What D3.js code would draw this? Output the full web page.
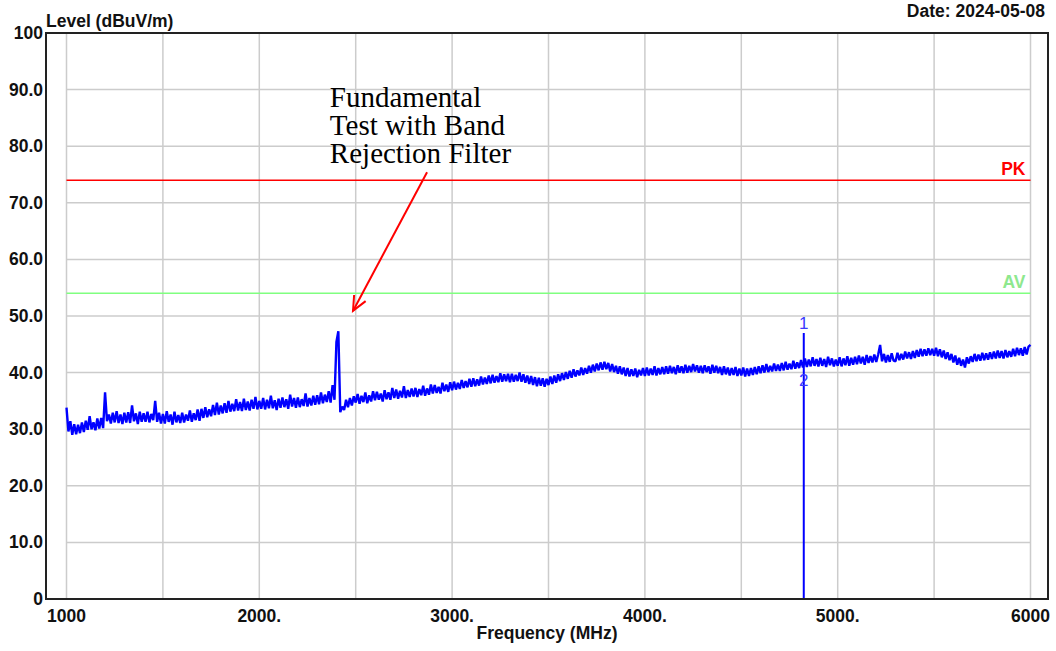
<!doctype html>
<meta charset='utf-8'>
<style>
  body { margin: 0; background: #fff; }
  svg text { font-family: 'Liberation Sans', Arial, sans-serif; }
</style>
<body>
<script src='https://cdn.jsdelivr.net/npm/d3@7/dist/d3.min.js'></script>
<script>

// ---- data ----
var freqStart = 1000, freqStep = 10;   // MHz, one level every 10 MHz
var levels = [
  33.8, 29.6, 31.4, 29.0, 30.9, 29.1, 30.8, 29.3, 31.2, 29.5,
  31.5, 29.9, 32.3, 30.0, 31.2, 29.8, 31.9, 30.1, 32.0, 30.2,
  36.5, 31.4, 32.6, 31.0, 32.9, 31.2, 33.2, 31.1, 32.6, 30.9,
  32.9, 31.2, 33.0, 31.1, 34.2, 31.4, 32.8, 30.9, 33.1, 31.3,
  32.8, 31.3, 33.1, 31.2, 32.7, 31.6, 35.0, 31.3, 32.9, 31.0,
  32.7, 31.0, 33.2, 31.3, 32.6, 30.8, 33.1, 31.2, 32.5, 31.1,
  32.9, 31.2, 32.6, 31.5, 33.3, 31.3, 32.8, 31.6, 33.5, 31.5,
  33.6, 32.0, 33.9, 32.1, 33.5, 32.3, 34.3, 32.5, 34.7, 32.6,
  34.2, 32.8, 34.6, 32.9, 35.0, 33.1, 34.5, 33.2, 35.3, 33.3,
  34.8, 33.2, 35.4, 33.4, 34.9, 33.3, 35.2, 33.6, 35.7, 33.5,
  35.0, 33.6, 35.5, 33.5, 35.2, 33.7, 35.9, 33.7, 35.1, 33.4,
  35.4, 33.8, 35.6, 33.9, 35.3, 33.6, 36.1, 34.0, 35.5, 33.8,
  35.6, 33.9, 35.3, 34.1, 36.3, 34.0, 35.5, 34.2, 35.9, 34.3,
  36.0, 34.4, 36.5, 34.6, 36.1, 34.8, 36.7, 34.7, 37.8, 35.2,
  45.4, 47.3, 33.0, 34.0, 33.4, 35.2, 33.9, 35.5, 34.2, 35.8,
  34.7, 36.2, 34.5, 35.9, 34.8, 36.5, 34.6, 36.0, 34.9, 36.7,
  35.1, 36.6, 35.2, 36.3, 34.9, 36.9, 35.3, 36.5, 35.2, 37.3,
  35.5, 37.0, 35.4, 36.8, 35.6, 37.6, 35.5, 36.9, 35.7, 37.2,
  35.8, 37.3, 35.7, 37.1, 36.0, 37.7, 35.9, 37.2, 36.1, 37.9,
  36.3, 37.8, 36.4, 37.5, 36.3, 38.2, 36.7, 37.9, 36.6, 38.3,
  36.9, 38.4, 37.0, 38.2, 37.1, 38.7, 37.3, 38.5, 37.4, 38.9,
  37.5, 39.0, 37.6, 38.8, 37.7, 39.3, 37.9, 39.1, 38.0, 39.5,
  38.1, 39.6, 38.2, 39.4, 38.3, 39.9, 38.4, 39.7, 38.5, 39.8,
  38.3, 39.8, 38.4, 39.6, 38.5, 40.0, 38.4, 39.7, 38.2, 39.5,
  38.0, 39.4, 37.8, 39.2, 37.6, 39.1, 37.7, 39.0, 37.5, 38.9,
  37.8, 39.3, 38.0, 39.5, 38.2, 39.7, 38.5, 39.9, 38.7, 40.1,
  38.9, 40.3, 39.1, 40.6, 39.3, 40.4, 39.5, 40.9, 39.6, 40.8,
  39.8, 41.2, 40.0, 41.4, 40.2, 41.6, 40.4, 41.8, 40.5, 41.9,
  40.6, 41.7, 40.2, 41.5, 40.1, 41.2, 39.8, 41.1, 39.7, 40.9,
  39.4, 40.8, 39.3, 40.6, 39.4, 40.7, 39.2, 40.5, 39.5, 40.8,
  39.4, 40.9, 39.5, 40.7, 39.6, 41.1, 39.5, 40.8, 39.7, 41.0,
  39.7, 41.1, 39.8, 41.2, 39.9, 41.0, 39.7, 41.3, 40.0, 41.1,
  39.9, 41.4, 40.0, 41.2, 40.1, 41.5, 40.2, 41.3, 40.0, 41.2,
  39.9, 41.3, 40.1, 41.1, 39.8, 41.4, 40.0, 41.2, 39.9, 41.0,
  39.6, 41.1, 39.7, 40.9, 39.5, 40.8, 39.6, 41.0, 39.4, 40.7,
  39.5, 40.9, 39.3, 40.7, 39.4, 40.8, 39.6, 41.0, 39.7, 41.1,
  39.9, 41.3, 40.0, 41.5, 40.1, 41.2, 40.2, 41.6, 40.3, 41.4,
  40.3, 41.7, 40.4, 41.9, 40.5, 41.6, 40.6, 42.1, 40.7, 41.8,
  40.8, 42.2, 40.9, 42.5, 41.0, 42.3, 41.1, 42.7, 41.2, 42.4,
  41.1, 42.6, 41.2, 42.4, 41.0, 42.8, 41.3, 42.5, 41.1, 42.3,
  41.2, 42.7, 41.1, 42.5, 41.3, 42.9, 41.2, 42.6, 41.4, 42.8,
  41.5, 43.0, 41.6, 42.8, 41.4, 43.1, 41.7, 42.9, 41.8, 43.2,
  41.9, 43.2, 44.9, 42.0, 43.3, 41.8, 43.1, 41.9, 43.4, 42.1,
  42.0, 43.5, 42.2, 43.3, 42.3, 43.7, 42.5, 43.6, 42.4, 43.8,
  42.6, 44.0, 42.8, 44.2, 42.9, 44.1, 43.0, 44.3, 43.1, 44.2,
  43.0, 44.4, 42.9, 44.1, 42.7, 43.9, 42.4, 43.6, 42.2, 43.3,
  41.8, 43.0, 41.4, 42.6, 41.2, 42.3, 40.9, 42.7, 41.6, 42.9,
  41.9, 43.3, 42.0, 43.2, 42.1, 43.5, 42.2, 43.4, 42.3, 43.6,
  42.4, 43.7, 42.5, 43.9, 42.6, 43.8, 42.5, 44.0, 42.7, 43.8,
  42.8, 44.2, 42.9, 44.4, 43.1, 44.3, 43.0, 44.5, 43.2, 44.6,
  44.9
];

var xTicks = [1000, 2000, 3000, 4000, 5000, 6000];
var xTickLabels = ['1000', '2000.', '3000.', '4000.', '5000.', '6000'];
var xGrid = [1000, 1500, 2000, 2500, 3000, 3500, 4000, 4500, 5000, 5500, 6000];
var yTicks = [0, 10, 20, 30, 40, 50, 60, 70, 80, 90, 100];
var yTickLabels = ['0', '10.0', '20.0', '30.0', '40.0', '50.0', '60.0', '70.0', '80.0', '90.0', '100'];

var limitNames = ['PK', 'AV'];
var limitLevels = [74, 54];

var markerIds = ['1', '2'];
var markerFreqs = [4824, 4824];
var markerLevels = [47.0, 40.6];

var noteLines = ['Fundamental', 'Test with Band', 'Rejection Filter'];

// ---- layout / style ----
var width = 1056, height = 651;
var frame = {left: 46, right: 1048, top: 33, bottom: 599};
var limitColor = {PK: '#ff0000', AV: '#80ff80'};
var labelColor = {PK: '#ff0000', AV: '#8ee88e'};
var traceColor = '#0000ff';
var gridColor = '#cccccc';
var textColor = '#111';
var fontSize = '17.5px';

var x = d3.scaleLinear().domain([1000, 6000]).range([66.5, 1030.5]);
var y = d3.scaleLinear().domain([0, 100]).range([frame.bottom, frame.top]);

var svg = d3.select('body').append('svg')
  .attr('width', width)
  .attr('height', height);

// grid
svg.append('g').selectAll('line')
  .data(xGrid).enter().append('line')
  .attr('x1', d => x(d)).attr('x2', d => x(d))
  .attr('y1', y(100)).attr('y2', y(0))
  .attr('stroke', gridColor).attr('stroke-width', 1.5);

svg.append('g').selectAll('line')
  .data(yTicks.slice(1, -1)).enter().append('line')
  .attr('x1', x(1000)).attr('x2', x(6000))
  .attr('y1', d => y(d)).attr('y2', d => y(d))
  .attr('stroke', gridColor).attr('stroke-width', 1.5);

// limit lines
var limits = svg.append('g').selectAll('g')
  .data(limitNames).enter().append('g');

limits.append('line')
  .attr('x1', x(1000)).attr('x2', x(6000))
  .attr('y1', (d, i) => y(limitLevels[i])).attr('y2', (d, i) => y(limitLevels[i]))
  .attr('stroke', d => limitColor[d]).attr('stroke-width', 1.5);

limits.append('text')
  .attr('x', x(6000) - 5)
  .attr('y', (d, i) => y(limitLevels[i]) - 5)
  .attr('text-anchor', 'end')
  .style('font-size', fontSize).style('font-weight', 'bold')
  .attr('fill', d => labelColor[d])
  .text(d => d);

// trace
var line = d3.line()
  .x((d, i) => x(freqStart + i * freqStep))
  .y(d => y(d));

svg.append('path')
  .datum(levels)
  .attr('d', line)
  .attr('fill', 'none')
  .attr('stroke', traceColor)
  .attr('stroke-width', 2.4)
  .attr('stroke-linejoin', 'bevel');

// marker line + labels
svg.append('line')
  .attr('x1', x(markerFreqs[0])).attr('x2', x(markerFreqs[0]))
  .attr('y1', y(0)).attr('y2', y(d3.max(markerLevels)))
  .attr('stroke', traceColor).attr('stroke-width', 2);

svg.append('g').selectAll('text')
  .data(markerIds).enter().append('text')
  .attr('x', (d, i) => x(markerFreqs[i]))
  .attr('y', (d, i) => i === 0 ? y(markerLevels[i]) - 4 : y(markerLevels[i]) + 17)
  .attr('text-anchor', 'middle')
  .style('font-size', '17px')
  .attr('fill', '#3a3aff')
  .text(d => d);

// frame
svg.append('rect')
  .attr('x', frame.left).attr('y', frame.top)
  .attr('width', frame.right - frame.left)
  .attr('height', frame.bottom - frame.top)
  .attr('fill', 'none')
  .attr('stroke', '#222').attr('stroke-width', 2);

// tick labels
svg.append('g').selectAll('text')
  .data(xTicks).enter().append('text')
  .attr('x', d => x(d))
  .attr('y', 622)
  .attr('text-anchor', 'middle')
  .style('font-size', fontSize).style('font-weight', 'bold')
  .attr('fill', textColor)
  .text((d, i) => xTickLabels[i]);

svg.append('g').selectAll('text')
  .data(yTicks).enter().append('text')
  .attr('x', 43)
  .attr('y', d => y(d) + 6)
  .attr('text-anchor', 'end')
  .style('font-size', fontSize).style('font-weight', 'bold')
  .attr('fill', textColor)
  .text((d, i) => yTickLabels[i]);

// titles
svg.append('text')
  .attr('x', frame.left).attr('y', 27)
  .style('font-size', fontSize).style('font-weight', 'bold')
  .attr('fill', textColor)
  .text('Level (dBuV/m)');

svg.append('text')
  .attr('x', 1045).attr('y', 17)
  .attr('text-anchor', 'end')
  .style('font-size', fontSize).style('font-weight', 'bold')
  .attr('fill', textColor)
  .text('Date: 2024-05-08');

svg.append('text')
  .attr('x', (frame.left + frame.right) / 2).attr('y', 639)
  .attr('text-anchor', 'middle')
  .style('font-size', fontSize).style('font-weight', 'bold')
  .attr('fill', textColor)
  .text('Frequency (MHz)');

// annotation
var note = svg.append('text')
  .attr('x', x(2366)).attr('y', y(86.9))
  .style('font-family', "'Liberation Serif', 'Times New Roman', serif")
  .style('font-size', '29px')
  .attr('fill', '#000');

note.selectAll('tspan')
  .data(noteLines).enter().append('tspan')
  .attr('x', x(2366))
  .attr('dy', (d, i) => i === 0 ? 0 : 28)
  .text(d => d);

var tail = [x(2870), y(75.4)], tip = [x(2486), y(50.9)];
var ang = Math.atan2(tail[1] - tip[1], tail[0] - tip[0]);
var head = 16, spread = 0.42;

svg.append('line')
  .attr('x1', tail[0]).attr('y1', tail[1])
  .attr('x2', tip[0]).attr('y2', tip[1])
  .attr('stroke', '#ff0000').attr('stroke-width', 2);

svg.append('path')
  .attr('d', 'M' + (tip[0] + head * Math.cos(ang - spread)) + ',' + (tip[1] + head * Math.sin(ang - spread)) +
             'L' + tip[0] + ',' + tip[1] +
             'L' + (tip[0] + head * Math.cos(ang + spread)) + ',' + (tip[1] + head * Math.sin(ang + spread)))
  .attr('fill', 'none')
  .attr('stroke', '#ff0000').attr('stroke-width', 2);

</script>
</body>
